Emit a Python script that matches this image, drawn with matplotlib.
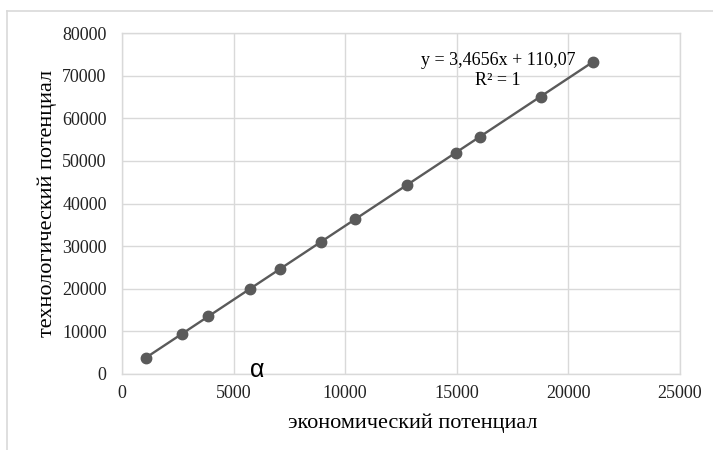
import numpy as np
import matplotlib.pyplot as plt

plt.rcParams['font.family'] = ['Liberation Serif', 'DejaVu Serif']

# data
econ = [1062, 2675, 3867, 5735, 7079, 8900, 10430, 12783, 14964, 16039, 18759, 21089]
tech = [3800, 9400, 13500, 20000, 24650, 30950, 36250, 44400, 51950, 55700, 65100, 73200]
x_ticks = [0, 5000, 10000, 15000, 20000, 25000]
y_ticks = [0, 10000, 20000, 30000, 40000, 50000, 60000, 70000, 80000]
eq_text = "y = 3,4656x + 110,07"
r2_text = "R² = 1"

grid_c = '#d9d9d9'
mark_c = '#5a5a5a'

fig = plt.figure(figsize=(7.13, 4.5), dpi=100)
ax = fig.add_axes([122/713, 1 - 374/450, 558/713, 341/450])

# linear trend through the points
k, b = np.polyfit(econ, tech, 1)
xs = np.array([min(econ), max(econ)])
ax.plot(xs, k*xs + b, color=mark_c, lw=1.7, zorder=2)
ax.plot(econ, tech, 'o', color=mark_c, ms=7.5, zorder=3)

ax.set_xlim(0, 25000)
ax.set_ylim(0, 80000)
ax.set_xticks(x_ticks)
ax.set_yticks(y_ticks)
ax.tick_params(length=0, labelsize=13, colors='#222222')
ax.tick_params(axis='x', pad=8)
ax.tick_params(axis='y', pad=11)
ax.grid(True, color=grid_c, lw=1)
ax.set_axisbelow(True)
for s in ax.spines.values():
    s.set_color(grid_c)
    s.set_linewidth(1)

ax.text(0.674, 0.92, eq_text, transform=ax.transAxes, ha='center', va='center', fontsize=13)
ax.text(0.674, 0.862, r2_text, transform=ax.transAxes, ha='center', va='center', fontsize=13)
ax.text(6050, 1000, 'α', fontsize=18, family=['Liberation Sans', 'DejaVu Sans'], ha='center', va='center')

fig.text(413/713, 1 - 423/450, 'экономический потенциал', ha='center', va='center', fontsize=16)
fig.text(47/713, 1 - 203/450, 'технологический потенциал', ha='center', va='center',
         rotation=90, fontsize=16)

# outer chart frame (cut at the right and bottom)
fig.add_artist(plt.Line2D([7/713, 7/713], [0, 1 - 11/450], color=grid_c, lw=1.2))
fig.add_artist(plt.Line2D([7/713, 1], [1 - 11/450, 1 - 11/450], color=grid_c, lw=1.2))

fig.savefig('out.png', dpi=100)
